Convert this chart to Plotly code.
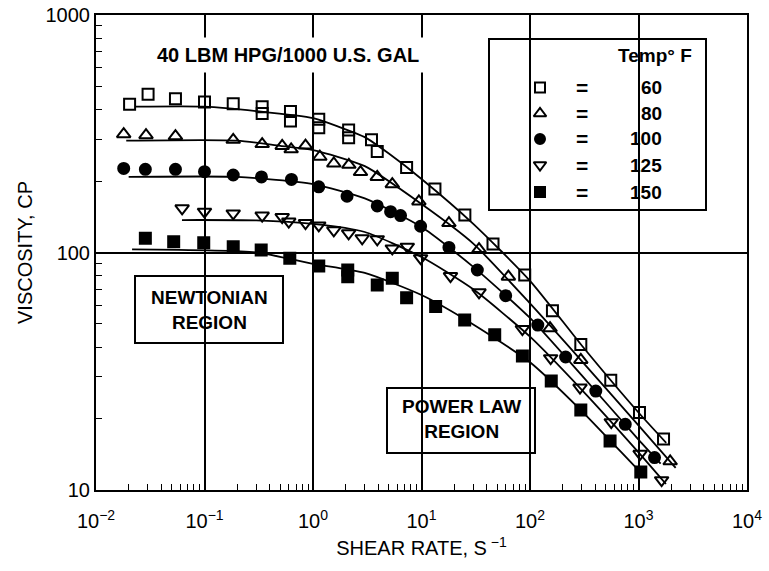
import plotly.graph_objects as go

# ---------------- data ----------------
temps = ["60", "80", "100", "125", "150"]

sq_x = [0.0204, 0.0302, 0.054, 0.100, 0.184, 0.340, 0.340, 0.620, 0.620, 1.13, 1.13, 2.13, 2.13,
        3.46, 3.91, 7.29, 13.3, 25.1, 45.6, 89.4, 161, 294, 555, 1021, 1701]
sq_y = [421, 464, 444, 430, 423, 411, 385, 392, 358, 364, 335, 328, 304,
        298, 266, 228, 185, 144, 108.6, 80.4, 56.9, 41.0, 29.0, 21.2, 16.4]
sq_fit_x = [0.023, 0.1, 0.3, 1, 2, 3, 5, 10, 30, 100, 300, 1000, 1800]
sq_fit_y = [411, 411, 394, 368, 330, 306, 261, 204, 132, 76, 40.6, 21.2, 15.8]

tri_x = [0.0180, 0.0289, 0.054, 0.184, 0.340, 0.520, 0.629, 0.853, 1.156, 1.555, 2.14, 2.74,
         3.91, 5.38, 9.46, 17.9, 33.9, 63.2, 153, 294, 1958]
tri_y = [315, 312, 309, 298, 286, 281, 272, 282, 253, 237, 234, 218,
         208, 194, 164, 133, 103.4, 79.1, 48.0, 35.3, 13.2]
tri_fit_x = [0.019, 0.2, 0.5, 1, 3, 10, 30, 100, 300, 1000, 2200]
tri_fit_y = [296, 296, 281, 270, 231, 160, 109, 61, 34.9, 18.7, 12.4]

circ_x = [0.0180, 0.0285, 0.054, 0.100, 0.184, 0.335, 0.633, 1.13, 2.06, 3.91, 5.19, 6.41,
          9.81, 17.9, 32.7, 59.7, 118, 213, 404, 755, 1405]
circ_y = [226, 224, 224, 219, 212, 208, 203, 189, 172.5, 157, 148.6, 143,
          129, 105, 84.4, 65.8, 49.5, 36.3, 26.1, 18.9, 13.7]
circ_fit_x = [0.020, 0.2, 1, 3, 10, 30, 100, 300, 1000, 1600]
circ_fit_y = [208, 208, 194, 169, 128, 87, 53, 30.4, 16.3, 12.9]

itri_x = [0.0622, 0.100, 0.184, 0.340, 0.520, 0.598, 0.853, 1.13, 1.555, 2.13, 2.84, 3.91,
          5.38, 7.40, 9.81, 18.5, 33.9, 85.1, 155, 289, 561, 1035, 1633]
itri_y = [153.5, 148.5, 146, 143, 141, 135, 133, 130, 124, 120.5, 114.8, 113.7,
          104, 105.8, 94.6, 79.6, 68, 47.6, 35.9, 27, 19.3, 14.2, 11.0]
itri_fit_x = [0.062, 0.3, 1, 3, 10, 30, 100, 300, 1000, 1790]
itri_fit_y = [137, 136.5, 132, 122, 95.7, 70, 44.2, 26.4, 14.4, 10.6]

fsq_x = [0.0285, 0.052, 0.0984, 0.184, 0.333, 0.611, 1.13, 2.09, 2.09, 3.91, 5.38, 7.29,
         13.5, 25.0, 47.3, 85.1, 157, 294, 547, 1050]
fsq_y = [114.8, 111, 110, 105.8, 102.4, 94.5, 87.7, 84.4, 79.1, 73, 77.9, 64.5,
         59.2, 52, 45, 36.7, 28.8, 21.7, 16.1, 11.9]
fsq_fit_x = [0.0215, 0.3, 1, 3, 10, 30, 100, 300, 1000, 1100]
fsq_fit_y = [103, 100, 89.6, 82, 66.2, 49.8, 34.5, 21.5, 12.1, 11.6]

x_tickvals = [1e-2, 1e-1, 1e0, 1e1, 1e2, 1e3, 1e4]
x_ticktext = ["10<sup>−2</sup>", "10<sup>−1</sup>", "10<sup>0</sup>", "10<sup>1</sup>",
              "10<sup>2</sup>", "10<sup>3</sup>", "10<sup>4</sup>"]
y_tickvals = [10, 100, 1000]
y_ticktext = ["10", "100", "1000"]

# ---------------- styling ----------------
W, H = 769, 571
PL, PR, PT, PB = 96, 747, 15, 490      # plot area in page pixels
L, T, R, B = PL, PT, W - PR, H - PB
PW, PH = PR - PL, PB - PT
FONT = "Liberation Sans, Arial, sans-serif"


def xp(px):
    return (px - PL) / PW


def yp(py):
    return (PB - py) / PH


series = [
    (sq_x, sq_y, sq_fit_x, sq_fit_y, "square-open", "black", 11),
    (tri_x, tri_y, tri_fit_x, tri_fit_y, "triangle-up-open", "black", 12),
    (circ_x, circ_y, circ_fit_x, circ_fit_y, "circle", "black", 11),
    (itri_x, itri_y, itri_fit_x, itri_fit_y, "triangle-down-open", "black", 12),
    (fsq_x, fsq_y, fsq_fit_x, fsq_fit_y, "square", "black", 11),
]

fig = go.Figure()
for xs, ys, fx, fy, sym, col, sz in series:
    fig.add_trace(go.Scatter(x=fx, y=fy, mode="lines",
                             line=dict(color="black", width=1.8, shape="spline", smoothing=0.6),
                             showlegend=False, hoverinfo="skip"))
    fig.add_trace(go.Scatter(x=xs, y=ys, mode="markers",
                             marker=dict(symbol=sym, size=sz, color=col,
                                         line=dict(color="black", width=2)),
                             showlegend=False))

# legend box contents (manual legend)
row_py = [87.5, 113.5, 139, 165, 192]
for i, (xs, ys, fx, fy, sym, col, sz) in enumerate(series):
    fig.add_trace(go.Scatter(x=[xp(540)], y=[yp(row_py[i])], xaxis="x2", yaxis="y2",
                             mode="markers",
                             marker=dict(symbol=sym, size=sz - 1, color=col,
                                         line=dict(color="black", width=2)),
                             showlegend=False, hoverinfo="skip"))

shapes = [
    dict(type="rect", xref="paper", yref="paper", x0=xp(489), x1=xp(706), y0=yp(210), y1=yp(39),
         line=dict(color="black", width=2), fillcolor="white", layer="between"),
    dict(type="rect", xref="paper", yref="paper", x0=xp(135), x1=xp(283), y0=yp(343), y1=yp(276),
         line=dict(color="black", width=2), fillcolor="white", layer="between"),
    dict(type="rect", xref="paper", yref="paper", x0=xp(387), x1=xp(535), y0=yp(453), y1=yp(388),
         line=dict(color="black", width=2), fillcolor="white", layer="between"),
]


def note(text, px, py, size, xanchor="center", **kw):
    return dict(text=text, x=xp(px), y=yp(py), xref="paper", yref="paper",
                xanchor=xanchor, yanchor="middle", showarrow=False,
                font=dict(family=FONT, size=size, color="black"), **kw)


ann = [
    note("<b>40 LBM HPG/1000 U.S. GAL</b>", 288, 55, 20, bgcolor="white", borderpad=6),
    note("<b>NEWTONIAN<br>REGION</b>", 209, 309.5, 19),
    note("<b>POWER LAW<br>REGION</b>", 461, 419, 19),
    note("<b>Temp° F</b>", 694, 55.5, 19, xanchor="right"),
]
for i, t in enumerate(temps):
    ann.append(note("<b>=</b>", 582, row_py[i], 21))
    ann.append(note("<b>" + t + "</b>", 664, row_py[i], 19, xanchor="right"))

x_minor = [m * 10 ** e for e in range(-2, 4) for m in range(2, 10)]
y_minor = [m * 10 ** e for e in range(1, 3) for m in range(2, 10)]

fig.update_layout(
    width=W, height=H,
    margin=dict(l=L, r=R, t=T, b=B, autoexpand=False),
    paper_bgcolor="white", plot_bgcolor="white",
    showlegend=False,
    shapes=shapes, annotations=ann,
    font=dict(family=FONT, color="black"),
    xaxis=dict(type="log", range=[-2, 4], tickmode="array", tickvals=x_tickvals, ticktext=x_ticktext,
               ticks="", ticklen=0, ticklabelstandoff=12, ticklabeloverflow="allow",
               showgrid=True, gridcolor="black", gridwidth=1.6,
               showline=True, linecolor="black", linewidth=2, mirror=True, zeroline=False,
               tickfont=dict(family=FONT, size=20, color="black"),
               minor=dict(tickmode="array", tickvals=x_minor, ticks="inside", ticklen=6,
                          tickcolor="black", tickwidth=1.2, showgrid=False),
               title=dict(text="SHEAR RATE, S<sup> −1</sup>", standoff=10,
                          font=dict(family=FONT, size=20, color="black"))),
    yaxis=dict(type="log", range=[1, 3], tickmode="array", tickvals=y_tickvals, ticktext=y_ticktext,
               ticks="", ticklen=0, ticklabelstandoff=0, ticklabeloverflow="allow",
               showgrid=True, gridcolor="black", gridwidth=1.6,
               showline=True, linecolor="black", linewidth=2, mirror=True, zeroline=False,
               tickfont=dict(family=FONT, size=20, color="black"),
               minor=dict(tickmode="array", tickvals=y_minor, ticks="inside", ticklen=6,
                          tickcolor="black", tickwidth=1.2, showgrid=False),
               title=dict(text="VISCOSITY, CP", standoff=8,
                          font=dict(family=FONT, size=20, color="black"))),
    xaxis2=dict(overlaying="x", range=[0, 1], visible=False),
    yaxis2=dict(overlaying="y", range=[0, 1], visible=False),
)

fig.write_html("out.html", config={"displayModeBar": False},
               post_script="document.body.style.margin='0';document.body.style.overflow='hidden';")
